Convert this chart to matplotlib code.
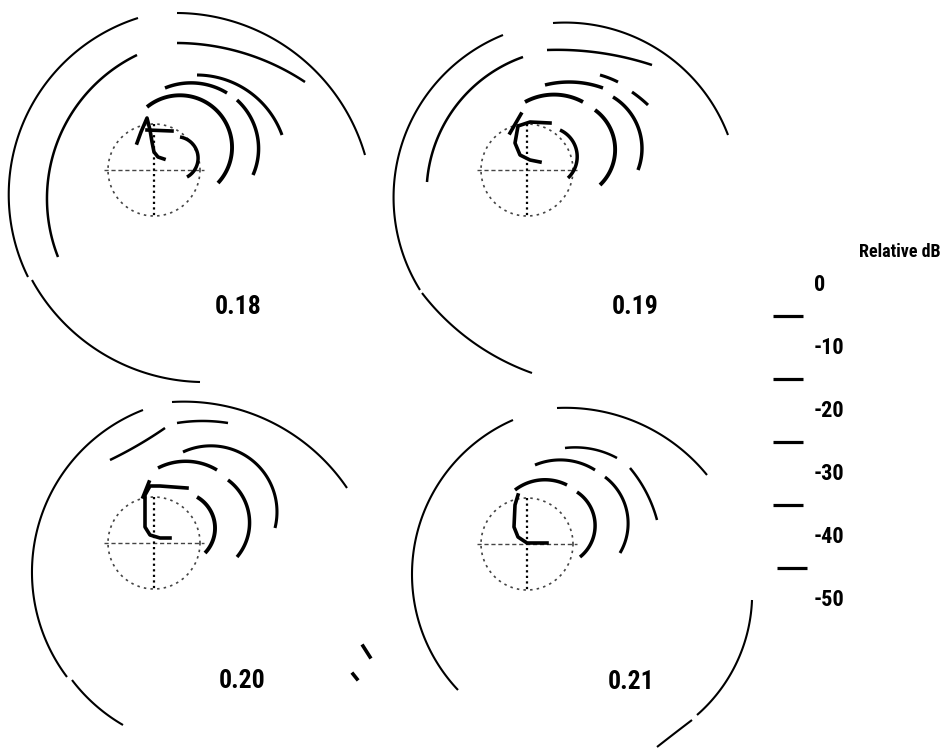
import numpy as np
import matplotlib
matplotlib.use("Agg")
import matplotlib.pyplot as plt
from matplotlib import font_manager

# panel labels (frequency) and the dB scale
panel_labels = ["0.18", "0.19", "0.20", "0.21"]
db_levels = [0, -10, -20, -30, -40, -50]

# contour arcs: (ring, start, middle, end) in pixels
# ring 0 is the outermost contour
arcs_018 = [
    (0, (138, 18), (10, 173), (28, 277)),
    (0, (32, 280), (83, 340), (200, 382)),
    (0, (177, 13), (300, 57), (365, 155)),
    (1, (137, 55), (57, 143), (58, 257)),
    (1, (177, 43), (240, 52), (305, 82)),
    (2, (197, 75), (248, 91), (282, 135)),
    (3, (165, 88), (187, 83), (227, 93)),
    (3, (237, 100), (258, 140), (253, 175)),
    (4, (147, 107), (230, 133), (218, 183)),
    (5, (180, 137), (198, 160), (187, 177)),
]
arcs_019 = [
    (0, (503, 35), (395, 175), (420, 290)),
    (0, (422, 293), (480, 347), (532, 373)),
    (0, (553, 23), (647, 43), (728, 135)),
    (1, (523, 57), (453, 110), (427, 182)),
    (1, (547, 50), (613, 55), (652, 65)),
    (2, (600, 75), (609, 78), (618, 82)),
    (2, (632, 92), (640, 98), (648, 105)),
    (3, (545, 85), (583, 83), (603, 88)),
    (3, (613, 97), (638, 127), (638, 170)),
    (4, (525, 102), (547, 95), (583, 102)),
    (4, (595, 110), (615, 153), (600, 185)),
    (5, (560, 130), (577, 160), (568, 178)),
]
arcs_020 = [
    (0, (143, 410), (40, 520), (67, 677)),
    (0, (72, 680), (93, 703), (123, 725)),
    (0, (172, 402), (267, 420), (347, 488)),
    (1, (110, 460), (133, 448), (165, 428)),
    (1, (177, 423), (200, 421), (228, 423)),
    (2, (183, 452), (267, 477), (275, 528)),
    (3, (158, 468), (200, 463), (217, 470)),
    (3, (228, 480), (249, 515), (237, 557)),
    (4, (197, 497), (215, 527), (205, 553)),
]
arcs_021 = [
    (0, (513, 420), (412, 575), (458, 690)),
    (0, (557, 408), (647, 427), (707, 475)),
    (0, (752, 600), (740, 655), (697, 715)),
    (0, (692, 720), (675, 733), (657, 747)),
    (1, (565, 448), (592, 449), (617, 458)),
    (1, (630, 468), (645, 490), (657, 520)),
    (2, (535, 465), (557, 460), (595, 470)),
    (2, (605, 477), (628, 520), (620, 553)),
    (3, (515, 490), (540, 480), (567, 485)),
    (3, (577, 492), (595, 523), (580, 557)),
]

# innermost contour pieces, as traced
inner_018 = [
    [(137, 143), (141, 132), (147, 118), (150, 130), (152, 142), (154, 152), (158, 157), (164, 159)],
    [(147, 130), (172, 131)],
]
inner_019 = [
    [(550, 123), (530, 122), (518, 126), (515, 143), (520, 155), (530, 160), (540, 162)],
    [(521, 114), (510, 133)],
]
inner_020 = [
    [(187, 488), (160, 486), (150, 486), (145, 495), (145, 527), (150, 535), (160, 538), (170, 538)],
    [(149, 482), (143, 497)],
    [(363, 646), (370, 657)],
    [(353, 674), (357, 679)],
]
inner_021 = [
    [(518, 495), (515, 505), (514, 527), (518, 537), (527, 543), (547, 543)],
]

# reference circle of each panel: centre x, centre y, radius
ref_circles = [(154, 170, 46), (527, 170, 46), (154, 543, 46), (527, 544, 46)]

all_arcs = [arcs_018, arcs_019, arcs_020, arcs_021]
all_inner = [inner_018, inner_019, inner_020, inner_021]

# styles / layout
ring_lw = {0: 1.5, 1: 1.8, 2: 2.2, 3: 2.5, 4: 2.8, 5: 2.5}
label_pos = [(238, 307), (635, 307), (242, 681), (631, 682)]

# pick a narrow bold face if one is installed
names = {f.name for f in font_manager.fontManager.ttflist}
narrow = None
for cand in ["Liberation Sans Narrow", "Arial Narrow", "Roboto Condensed",
             "Open Sans Condensed", "Noto Sans Condensed", "DejaVu Sans Condensed"]:
    if cand in names:
        narrow = cand
        break
if narrow is None:
    others = sorted(n for n in names if "Narrow" in n or "Condensed" in n)
    narrow = others[0] if others else "DejaVu Sans"
txt = dict(fontweight="bold", family=narrow, fontstretch="condensed")
wide = narrow == "DejaVu Sans"


def arc_points(p1, pm, p2, n=120):
    ax_, ay = p1
    bx, by = pm
    cx, cy = p2
    d = 2 * (ax_ * (by - cy) + bx * (cy - ay) + cx * (ay - by))
    if abs(d) < 1e-6:
        return np.array([ax_, cx]), np.array([ay, cy])
    ux = ((ax_**2 + ay**2) * (by - cy) + (bx**2 + by**2) * (cy - ay) + (cx**2 + cy**2) * (ay - by)) / d
    uy = ((ax_**2 + ay**2) * (cx - bx) + (bx**2 + by**2) * (ax_ - cx) + (cx**2 + cy**2) * (bx - ax_)) / d
    r = np.hypot(ax_ - ux, ay - uy)
    t1 = np.arctan2(ay - uy, ax_ - ux)
    tm = np.arctan2(by - uy, bx - ux)
    t2 = np.arctan2(cy - uy, cx - ux)
    d2 = (t2 - t1) % (2 * np.pi)
    dm = (tm - t1) % (2 * np.pi)
    sweep = d2 if dm < d2 else d2 - 2 * np.pi
    t = t1 + sweep * np.linspace(0, 1, n)
    return ux + r * np.cos(t), uy + r * np.sin(t)


fig = plt.figure(figsize=(9.44, 7.49), dpi=100)
ax = fig.add_axes([0, 0, 1, 1])
ax.set_xlim(0, 944)
ax.set_ylim(749, 0)
ax.axis("off")

for arcs, inner, (cx, cy, r), lab, (lx, ly) in zip(all_arcs, all_inner, ref_circles,
                                                 panel_labels, label_pos):
    # dotted reference circle with crosshair
    t = np.linspace(0, 2 * np.pi, 200)
    ax.plot(cx + r * np.cos(t), cy + r * np.sin(t), color="#444444", lw=1.2,
            ls=(0, (1.5, 2.5)))
    ax.plot([cx - r - 4, cx + r + 4], [cy, cy], color="#444444", lw=1.0, ls=(0, (3, 2)))
    ax.plot([cx, cx], [cy - r, cy + r + 2], color="black", lw=1.6, ls=(0, (1, 1.5)))

    for ring, p1, pm, p2 in arcs:
        xs, ys = arc_points(p1, pm, p2)
        ax.plot(xs, ys, color="black", lw=ring_lw[ring], solid_capstyle="butt")
    for piece in inner:
        xs, ys = zip(*piece)
        ax.plot(xs, ys, color="black", lw=2.6, solid_joinstyle="round")

    ax.text(lx, ly, lab, ha="center", va="center", fontsize=15 if wide else 18.5, **txt)

# dB scale on the right
ax.text(941, 252, "Relative dB", ha="right", va="center", fontsize=11.5 if wide else 13,
        **txt)
for i, lev in enumerate(db_levels):
    y = 285 + i * 63
    ax.text(814, y, str(lev), ha="left", va="center", fontsize=13.5 if wide else 16,
            **txt)
    if i < len(db_levels) - 1:
        x0 = 773 if i < 4 else 777
        ax.plot([x0, x0 + 30], [y + 31, y + 31], color="black", lw=2.3,
                solid_capstyle="butt")

fig.savefig("out.png", dpi=100)
